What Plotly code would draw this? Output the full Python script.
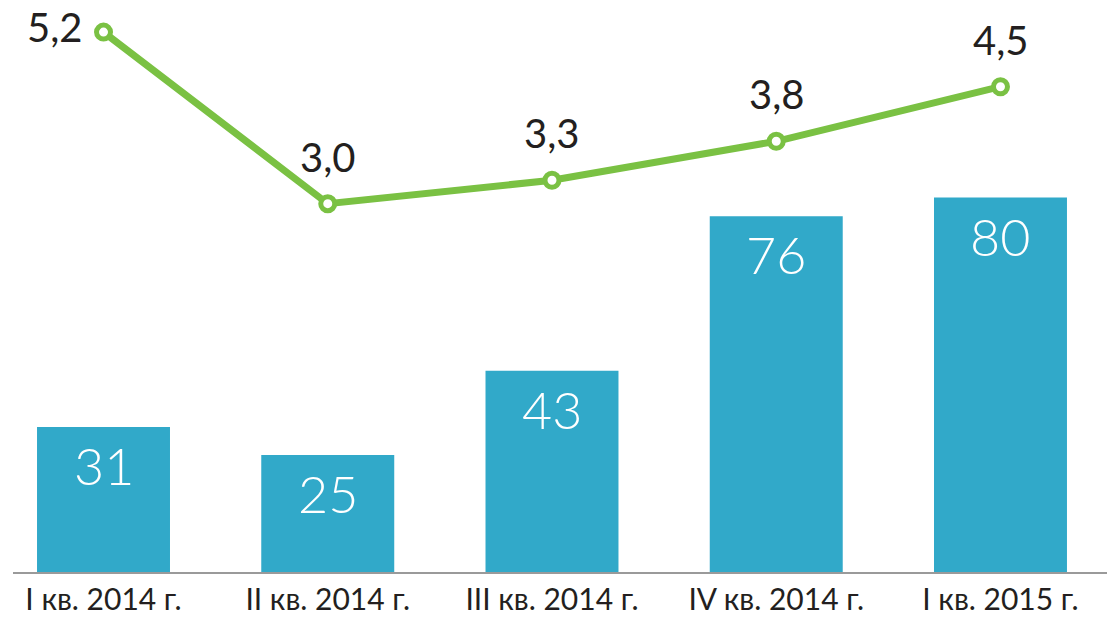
import plotly.graph_objects as go

categories = ["I кв. 2014 г.", "II кв. 2014 г.", "III кв. 2014 г.", "IV кв. 2014 г.", "I кв. 2015 г."]
bar_values = [31, 25, 43, 76, 80]
line_values = [5.2, 3.0, 3.3, 3.8, 4.5]
line_labels = ["5,2", "3,0", "3,3", "3,8", "4,5"]
bar_labels = ["31", "25", "43", "76", "80"]

BAR_COLOR = "#31a9c9"
LINE_COLOR = "#7ac143"
FONT = "Lato"
TEXT_COLOR = "#231f20"

xs = list(range(len(categories)))

fig = go.Figure()
fig.add_trace(go.Bar(
    x=xs, y=bar_values,
    marker=dict(color=BAR_COLOR, line=dict(width=0)),
    width=0.593, yaxis="y", hoverinfo="skip",
))
fig.add_trace(go.Scatter(
    x=xs, y=line_values,
    mode="lines+markers",
    line=dict(color=LINE_COLOR, width=7),
    marker=dict(symbol="circle", size=14, color="white", line=dict(color=LINE_COLOR, width=5)),
    cliponaxis=False, yaxis="y2",
))

annotations = []
for x, v, t in zip(xs, bar_values, bar_labels):
    annotations.append(dict(
        x=x, y=v, xref="x", yref="y", text=t, showarrow=False,
        xanchor="center", yanchor="top", yshift=-5,
        font=dict(family=FONT, size=52, color="white", weight=300),
    ))
for i, (x, v, t) in enumerate(zip(xs, line_values, line_labels)):
    if i == 0:
        annotations.append(dict(
            x=x, y=v, xref="x", yref="y2", text=t, showarrow=False,
            xanchor="right", yanchor="middle", xshift=-20, yshift=5,
            font=dict(family=FONT, size=40, color=TEXT_COLOR),
        ))
    else:
        annotations.append(dict(
            x=x, y=v, xref="x", yref="y2", text=t, showarrow=False,
            xanchor="center", yanchor="bottom", yshift=21,
            font=dict(family=FONT, size=40, color=TEXT_COLOR),
        ))

fig.update_layout(
    width=1107, height=623,
    margin=dict(l=13, r=0, t=0, b=51),
    paper_bgcolor="white", plot_bgcolor="white",
    showlegend=False,
    annotations=annotations,
    xaxis=dict(
        range=[-0.4036, 4.475],
        tickmode="array", tickvals=xs, ticktext=categories,
        tickfont=dict(family=FONT, size=30, color=TEXT_COLOR),
        showline=True, linecolor="#9a9a9a", linewidth=1.5,
        showgrid=False, zeroline=False, ticks="", ticklen=0,
    ),
    yaxis=dict(range=[0, 122.2], visible=False, showgrid=False, zeroline=False),
    yaxis2=dict(range=[-1.724, 5.612], overlaying="y", visible=False, showgrid=False, zeroline=False),
)

fig.write_html("out.html", config={"displayModeBar": False},
               post_script="document.body.style.margin='0';document.body.style.overflow='hidden';")
